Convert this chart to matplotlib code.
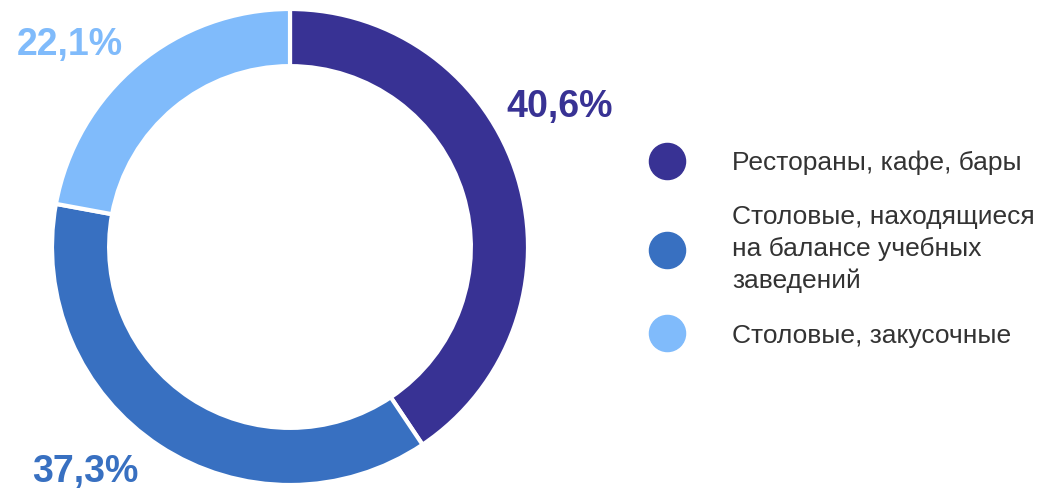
import matplotlib
matplotlib.use("Agg")
import matplotlib.pyplot as plt
from matplotlib.lines import Line2D

categories = ["Рестораны, кафе, бары",
              "Столовые, находящиеся\nна балансе учебных\nзаведений",
              "Столовые, закусочные"]
shares = [40.6, 37.3, 22.1]
value_labels = ["40,6%", "37,3%", "22,1%"]
colors = ["#383294", "#3870c1", "#80bbfb"]

plt.rcParams["font.family"] = ["Liberation Sans", "DejaVu Sans"]

W, H, DPI = 1040, 490, 100
fig = plt.figure(figsize=(W / DPI, H / DPI), dpi=DPI)

# donut centred at (290, 247) px, outer radius 238 px
cx, cy, r = 290, H - 247, 238
ax = fig.add_axes([(cx - r) / W, (cy - r) / H, 2 * r / W, 2 * r / H])
wedges, _ = ax.pie(shares, colors=colors, startangle=90, counterclock=False,
                   radius=1.0,
                   wedgeprops=dict(width=0.24, edgecolor="white", linewidth=3))
ax.set_xlim(-1, 1)
ax.set_ylim(-1, 1)
ax.set_aspect("equal")
ax.axis("off")

# value labels outside the ring (axes-fraction coords)
label_pos = [(1.067, 0.795), (0.069, 0.027), (0.038, 0.924)]
for (x, y), txt, col in zip(label_pos, value_labels, colors):
    ax.text(x, y, txt, transform=ax.transAxes, ha="center", va="center",
            fontsize=27, fontweight="bold", color=col, clip_on=False)

handles = [Line2D([], [], linestyle="none", marker="o", markersize=26,
                  markerfacecolor=c, markeredgecolor=c) for c in colors]
leg = fig.legend(handles, categories, loc="center left",
                 bbox_to_anchor=(638 / W, 1 - 249 / H), frameon=False,
                 fontsize=19, labelspacing=1.15, handletextpad=1.76,
                 handlelength=1.4, borderaxespad=0, labelcolor="#333333")
for t in leg.get_texts():
    t.set_linespacing(1.4)

fig.savefig("out.png", dpi=DPI, facecolor="white")
